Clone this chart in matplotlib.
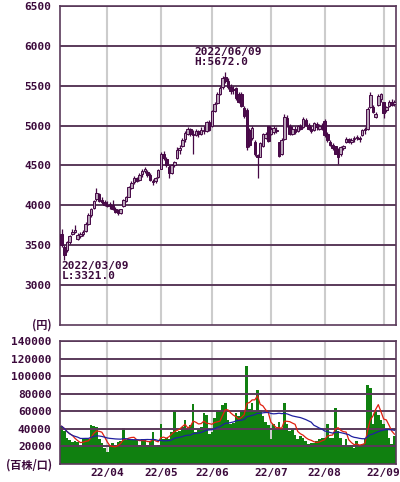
import matplotlib
matplotlib.use("Agg")
import matplotlib.pyplot as plt
import pandas as pd

plt.rcParams['font.family'] = ['DejaVu Sans Mono']
plt.rcParams['font.weight'] = 'bold'

# daily prices, 2022/03/08 .. 2022/09/07 (trading days)
opens = [3640, 3480, 3440, 3540, 3640, 3670, 3580, 3610, 3640, 3680,
         3770, 3880, 3970, 4080, 4140, 4070, 4040, 4010, 4000, 4010,
         3950, 3920, 3900, 3990, 4060, 4110, 4220, 4290, 4340, 4320,
         4390, 4430, 4420, 4380, 4310, 4300, 4350, 4460, 4650, 4580,
         4480, 4400, 4500, 4590, 4700, 4740, 4830, 4900, 4960, 4900,
         4880, 4930, 4900, 4950, 4930, 5040, 4990, 5180, 5280, 5400,
         5480, 5610, 5560, 5480, 5440, 5470, 5400, 5400, 5220, 5200,
         4950, 4840, 4800, 4630, 4610, 4750, 4850, 4990, 4900, 4920,
         4950, 4790, 4640, 4830, 5100, 4990, 4900, 4960, 4930, 4990,
         4980, 5070, 5010, 4960, 4940, 5020, 4960, 5000, 5060, 4900,
         4800, 4760, 4740, 4640, 4640, 4720, 4800, 4830, 4800, 4830,
         4850, 4850, 4880, 4940, 4960, 5230, 5230, 5110, 5260, 5330,
         5290, 5190, 5240, 5300, 5270]
highs = [3700, 3500, 3550, 3630, 3700, 3750, 3650, 3660, 3690, 3790,
         3900, 3970, 4070, 4220, 4160, 4110, 4070, 4050, 4040, 4070,
         3980, 3950, 3960, 4080, 4120, 4240, 4300, 4370, 4360, 4400,
         4450, 4480, 4440, 4400, 4330, 4360, 4460, 4670, 4680, 4600,
         4500, 4520, 4560, 4730, 4760, 4840, 4930, 4980, 4970, 4940,
         4960, 4950, 4980, 5000, 5060, 5070, 5200, 5290, 5420, 5500,
         5620, 5672, 5600, 5520, 5500, 5480, 5420, 5420, 5240, 5220,
         4970, 4990, 4820, 4650, 4790, 4910, 4920, 5000, 4980, 4990,
         4980, 4800, 4850, 5150, 5130, 5020, 4990, 4990, 5010, 5020,
         5110, 5100, 5030, 4990, 5050, 5040, 5020, 5030, 5080, 4920,
         4820, 4780, 4750, 4720, 4750, 4760, 4860, 4850, 4840, 4870,
         4880, 4870, 4960, 4980, 5230, 5420, 5260, 5170, 5390, 5410,
         5300, 5250, 5320, 5330, 5320]
lows = [3480, 3321, 3420, 3520, 3630, 3650, 3560, 3590, 3620, 3660,
        3750, 3860, 3960, 4060, 4040, 4020, 3990, 3980, 3960, 3940,
        3900, 3880, 3890, 3980, 4040, 4100, 4210, 4270, 4290, 4310,
        4360, 4400, 4360, 4300, 4260, 4280, 4340, 4450, 4570, 4480,
        4340, 4390, 4480, 4580, 4640, 4730, 4800, 4880, 4870, 4650,
        4870, 4860, 4880, 4900, 4920, 4930, 4980, 5170, 5270, 5380,
        5460, 5540, 5460, 5400, 5390, 5320, 5280, 5230, 5100, 4700,
        4730, 4820, 4620, 4340, 4600, 4730, 4830, 4790, 4880, 4900,
        4910, 4600, 4630, 4820, 4980, 4880, 4880, 4900, 4920, 4940,
        4970, 4990, 4940, 4910, 4930, 4950, 4950, 4950, 4860, 4800,
        4740, 4700, 4640, 4520, 4620, 4700, 4780, 4780, 4770, 4800,
        4820, 4800, 4870, 4900, 4950, 5220, 5160, 5090, 5250, 5300,
        5100, 5170, 5230, 5240, 5250]
closes = [3500, 3380, 3540, 3610, 3670, 3690, 3630, 3640, 3670, 3770,
          3880, 3950, 4050, 4160, 4060, 4040, 4010, 3990, 4020, 3950,
          3920, 3900, 3950, 4070, 4100, 4230, 4280, 4340, 4310, 4380,
          4430, 4450, 4380, 4320, 4290, 4340, 4440, 4650, 4590, 4500,
          4400, 4500, 4540, 4700, 4720, 4820, 4910, 4960, 4890, 4880,
          4930, 4890, 4950, 4930, 5040, 4950, 5180, 5270, 5400, 5470,
          5600, 5560, 5480, 5430, 5460, 5340, 5300, 5250, 5120, 4730,
          4760, 4970, 4640, 4600, 4780, 4900, 4900, 4810, 4960, 4970,
          4930, 4620, 4820, 5110, 5000, 4900, 4960, 4920, 4990, 4960,
          5080, 5010, 4960, 4930, 5030, 4980, 5000, 4970, 4880, 4820,
          4760, 4720, 4650, 4600, 4730, 4740, 4830, 4800, 4820, 4850,
          4860, 4830, 4950, 4960, 5210, 5380, 5170, 5150, 5370, 5390,
          5160, 5230, 5300, 5260, 5300]
volumes = [43000, 38000, 30000, 27000, 25000, 26000, 25000, 19000, 29000, 30000,
           29000, 44000, 43000, 42000, 28000, 24000, 18000, 14000, 20000, 24000,
           22000, 25000, 26000, 41000, 27000, 28000, 29000, 27000, 27000, 22000,
           29000, 28000, 22000, 26000, 36000, 20000, 22000, 46000, 29000, 30000,
           28000, 37000, 60000, 36000, 38000, 42000, 50000, 40000, 44000, 68000,
           36000, 40000, 42000, 58000, 56000, 34000, 36000, 52000, 62000, 60000,
           67000, 69000, 50000, 45000, 47000, 58000, 55000, 60000, 60000, 112000,
           63000, 70000, 60000, 84000, 62000, 55000, 48000, 44000, 29000, 46000,
           40000, 48000, 40000, 70000, 45000, 38000, 40000, 33000, 29000, 32000,
           30000, 26000, 23000, 24000, 24000, 26000, 28000, 30000, 30000, 45000,
           30000, 30000, 64000, 38000, 30000, 22000, 28000, 20000, 22000, 18000,
           26000, 22000, 23000, 28000, 90000, 87000, 45000, 60000, 56000, 50000,
           45000, 40000, 30000, 23000, 32000]

month_idx = [17, 37, 56, 78, 98, 120]
month_labels = ["22/04", "22/05", "22/06", "22/07", "22/08", "22/09"]
price_ticks = [3000, 3500, 4000, 4500, 5000, 5500, 6000, 6500]
vol_ticks = [20000, 40000, 60000, 80000, 100000, 120000, 140000]

txt_col = '#3c0a3c'
grid_col = '#5a3a5a'
vgrid_col = '#cccccc'

fig = plt.figure(figsize=(4, 4.82), dpi=100)
ax1 = fig.add_axes([0.15, 0.3257, 0.84, 0.662])
ax2 = fig.add_axes([0.15, 0.0373, 0.84, 0.2552])

n = len(closes)
x = list(range(n))

for ax in (ax1, ax2):
    ax.set_xlim(-0.6, n - 0.4)
    for m in month_idx:
        ax.axvline(m, color=vgrid_col, lw=1.5, zorder=0)
    for s in ax.spines.values():
        s.set_color(grid_col)
        s.set_linewidth(1.2)
    ax.tick_params(length=0, labelsize=8, labelcolor=txt_col, pad=6)

# --- candles
for yv in price_ticks:
    ax1.axhline(yv, color=grid_col, lw=1.4, zorder=1)
up_col, dn_col, edge_col = '#b8a4b8', '#4c0c4c', '#460846'
ax1.vlines(x, lows, highs, color=edge_col, lw=0.9, zorder=2)
body_lo = [min(o, c) for o, c in zip(opens, closes)]
body_h = [max(abs(c - o), 10) for o, c in zip(opens, closes)]
colors = [up_col if c >= o else dn_col for o, c in zip(opens, closes)]
ax1.bar(x, body_h, bottom=body_lo, width=0.95, color=colors,
        edgecolor=edge_col, linewidth=0.7, zorder=3)
ax1.set_ylim(2500, 6500)
ax1.set_yticks(price_ticks)
ax1.set_xticks(month_idx)
ax1.set_xticklabels([])

# high / low notes
hi = highs.index(max(highs))
lo = lows.index(min(lows))
ax1.annotate("2022/06/09\nH:%.1f" % highs[hi], xy=(hi, highs[hi]),
             xytext=(-31, 5), textcoords='offset pixels', ha='left', va='bottom',
             fontsize=8, color=txt_col, linespacing=1.0)
ax1.annotate("2022/03/09\nL:%.1f" % lows[lo], xy=(lo, lows[lo]),
             xytext=(-3, -1), textcoords='offset pixels', ha='left', va='top',
             fontsize=8, color=txt_col, linespacing=1.0)

# --- volume
ax2.bar(x, volumes, width=1.0, color='#108010', zorder=2)
vol = pd.Series(volumes)
ax2.plot(x, vol.rolling(5, min_periods=1).mean(), color='#e02010', lw=0.9, zorder=4)
ax2.plot(x, vol.rolling(25, min_periods=1).mean(), color='#2020a0', lw=0.9, zorder=4)
for yv in vol_ticks:
    ax2.axhline(yv, color=grid_col, lw=1.4, zorder=3)
ax2.set_ylim(0, 140000)
ax2.set_yticks(vol_ticks)
ax2.set_xticks(month_idx)
ax2.set_xticklabels(month_labels)
ax2.tick_params(axis='x', pad=3)

cjk = ['Noto Sans CJK JP', 'DejaVu Sans']
fig.text(0.13, 1 - 325 / 482, "(円)", ha='right', va='center', fontsize=8,
         color=txt_col, family=cjk, weight='bold')
fig.text(0.13, 1 - 465 / 482, "(百株/口)", ha='right', va='center', fontsize=8,
         color=txt_col, family=cjk, weight='bold')

fig.savefig("out.png", dpi=100)
